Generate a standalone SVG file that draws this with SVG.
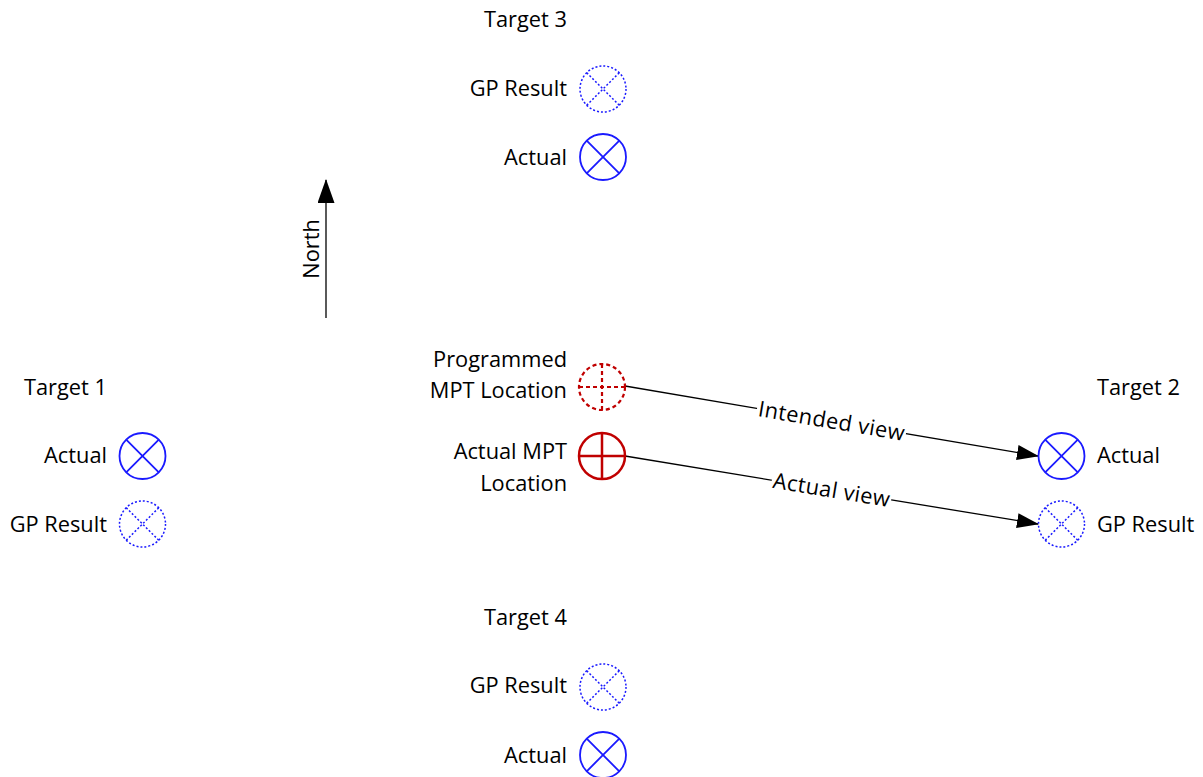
<svg xmlns="http://www.w3.org/2000/svg" width="1203" height="777" viewBox="0 0 1203 777">
<style>
text{font-family:"Open Sans","Noto Sans",sans-serif;font-size:21.8px;fill:#000}
.e{text-anchor:end}
.act{fill:none;stroke:#1a1aff;stroke-width:1.8}
.gp{fill:none;stroke:#1a1aff;stroke-width:1.5;stroke-dasharray:2 2}
.mpa{fill:none;stroke:#c00000;stroke-width:2.5}
.mpp{fill:none;stroke:#c00000;stroke-width:2.2;stroke-dasharray:4 3}
.cn{fill:none;stroke:#000;stroke-width:1.3}
</style>
<defs>
<marker id="ah" markerWidth="22" markerHeight="15" refX="21" refY="7.5" orient="auto" markerUnits="userSpaceOnUse">
<path d="M0,0 L22,7.5 L0,15 Z" fill="#000"/>
</marker>
<marker id="ahn" markerWidth="24" markerHeight="17" refX="23" refY="8.5" orient="auto" markerUnits="userSpaceOnUse">
<path d="M0,0 L24,8.5 L0,17 Z" fill="#000"/>
</marker>
<g id="xs"><circle r="23" class="act"/><path class="act" d="M-16.3,-16.3L16.3,16.3M-16.3,16.3L16.3,-16.3"/></g>
<g id="xd"><circle r="23" class="gp"/><path class="gp" d="M-16.3,-16.3L16.3,16.3M-16.3,16.3L16.3,-16.3"/></g>
</defs>
<rect width="1203" height="777" fill="#fff"/>

<g id="connectors">
<path class="cn" d="M625,386 L1038,456" marker-end="url(#ah)"/>
<path class="cn" d="M625,456 L1038,524" marker-end="url(#ah)"/>
<path class="cn" d="M326,318 L326,180" marker-end="url(#ahn)"/>
<g transform="rotate(9.62 831.5 421)">
<rect x="756" y="409" width="151" height="24" fill="#fff"/>
<text x="831.5" y="428.5" text-anchor="middle" textLength="148">Intended view</text>
</g>
<g transform="rotate(9.37 831.5 490)">
<rect x="771" y="478" width="121" height="24" fill="#fff"/>
<text x="831.5" y="497.5" text-anchor="middle" textLength="118">Actual view</text>
</g>
<text transform="translate(319 249) rotate(-90)" text-anchor="middle">North</text>
</g>

<g id="target3">
<text x="567" y="27" class="e">Target 3</text>
<text x="567" y="96" class="e">GP Result</text>
<use href="#xd" x="603" y="89"/>
<text x="567" y="165" class="e">Actual</text>
<use href="#xs" x="603" y="157"/>
</g>

<g id="target1">
<text x="107" y="395" class="e">Target 1</text>
<text x="107" y="463" class="e">Actual</text>
<use href="#xs" x="142.5" y="456"/>
<text x="107" y="532" class="e">GP Result</text>
<use href="#xd" x="142.5" y="524"/>
</g>

<g id="target2">
<text x="1097" y="395">Target 2</text>
<use href="#xs" x="1061.5" y="456"/>
<text x="1097" y="463">Actual</text>
<use href="#xd" x="1061.5" y="524"/>
<text x="1097" y="532">GP Result</text>
</g>

<g id="programmed-mpt">
<text x="567" y="367" class="e">Programmed</text>
<text x="567" y="398" class="e">MPT Location</text>
<circle cx="602" cy="387" r="23" class="mpp"/>
<path class="mpp" d="M579,387H625M602,364V410"/>
</g>

<g id="actual-mpt">
<text x="567" y="459" class="e">Actual MPT</text>
<text x="567" y="491" class="e">Location</text>
<circle cx="602" cy="456" r="23" class="mpa"/>
<path class="mpa" d="M579,456H625M602,433V479"/>
</g>

<g id="target4">
<text x="567" y="625" class="e">Target 4</text>
<text x="567" y="693" class="e">GP Result</text>
<use href="#xd" x="603" y="687"/>
<text x="567" y="763" class="e">Actual</text>
<use href="#xs" x="603" y="755"/>
</g>
</svg>
